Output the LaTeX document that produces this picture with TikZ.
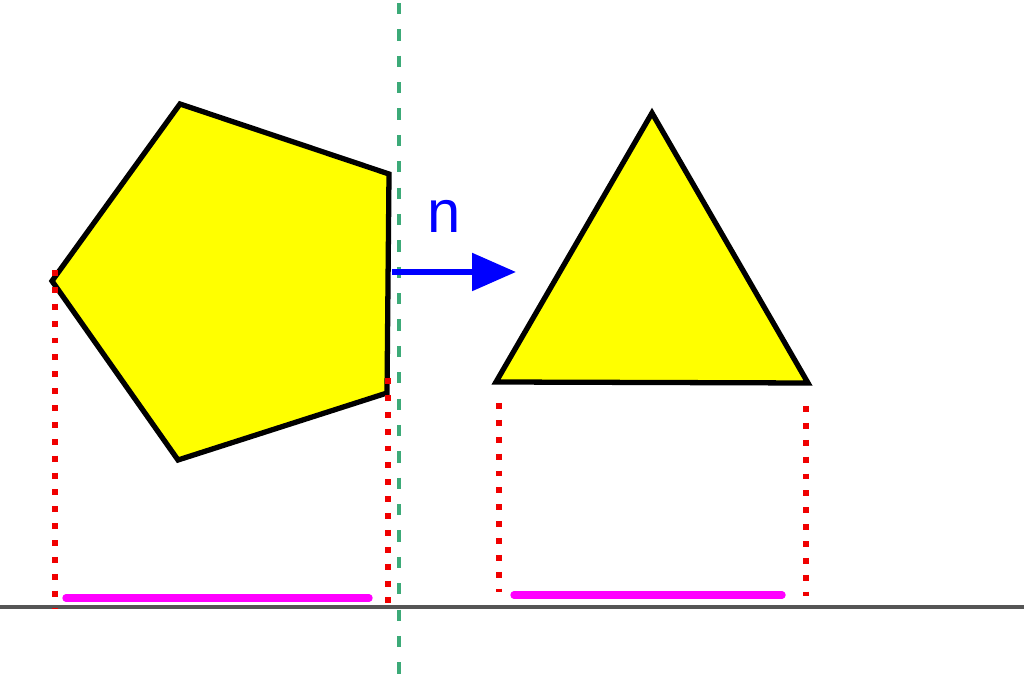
\documentclass[tikz,border=0pt]{standalone}
\usepackage{fontspec}
\newfontfamily\labelfont{Liberation Sans}
\usepackage{tikz}
\usetikzlibrary{arrows.meta}
\definecolor{shapeyellow}{RGB}{255, 255, 0}
\definecolor{axisgray}{RGB}{85, 85, 85}
\definecolor{mirrorgreen}{RGB}{60, 170, 120}
\definecolor{projred}{RGB}{240, 0, 0}
\definecolor{widthpink}{RGB}{255, 0, 255}

\begin{document}
\begin{tikzpicture}[
      x=0.01cm, y=-0.01cm,
      figure/.style={draw=black, fill=shapeyellow, line width=1.5pt, line join=miter},
      projline/.style={draw=projred, line width=1.7pt, dash pattern=on 1.7pt off 3.1pt},
      widthbar/.style={draw=widthpink, line width=2.1pt, line cap=round},
      mirror/.style={draw=mirrorgreen, line width=1.1pt, dash pattern=on 3.2pt off 4.3pt}
    ]
      \useasboundingbox (0,0) rectangle (1024,683);

      % shapes
      \draw[figure] (180,104) -- (389,174) -- (387,393) -- (178,460) -- (52,281) -- cycle;
      \draw[figure] (652,113) -- (808,383) -- (496,382) -- cycle;

      % mirror line and ground
      \draw[mirror] (399,3) -- (399,683);
      \draw[draw=axisgray, line width=1.1pt] (0,607) -- (1024,607);

      % projections
      \draw[projline] (55,270) -- (55,609);
      \draw[projline] (388,378) -- (388,609);
      \draw[projline] (499,403) -- (499,592);
      \draw[projline] (806,406) -- (806,596);

      \draw[widthbar] (66,598) -- (369,598);
      \draw[widthbar] (514,595) -- (782,595);

      % direction
      \coordinate (nstart) at (392,272);
      \coordinate (nend) at (516,272);
      \draw[-{Triangle[length=12.5pt, width=10.5pt]}, blue, line width=1.6pt] (nstart) -- (nend);
      \node[text=blue, font=\labelfont\fontsize{17}{20}\selectfont] (nlabel) at (444,216) {n};
    \end{tikzpicture}
\end{document}
